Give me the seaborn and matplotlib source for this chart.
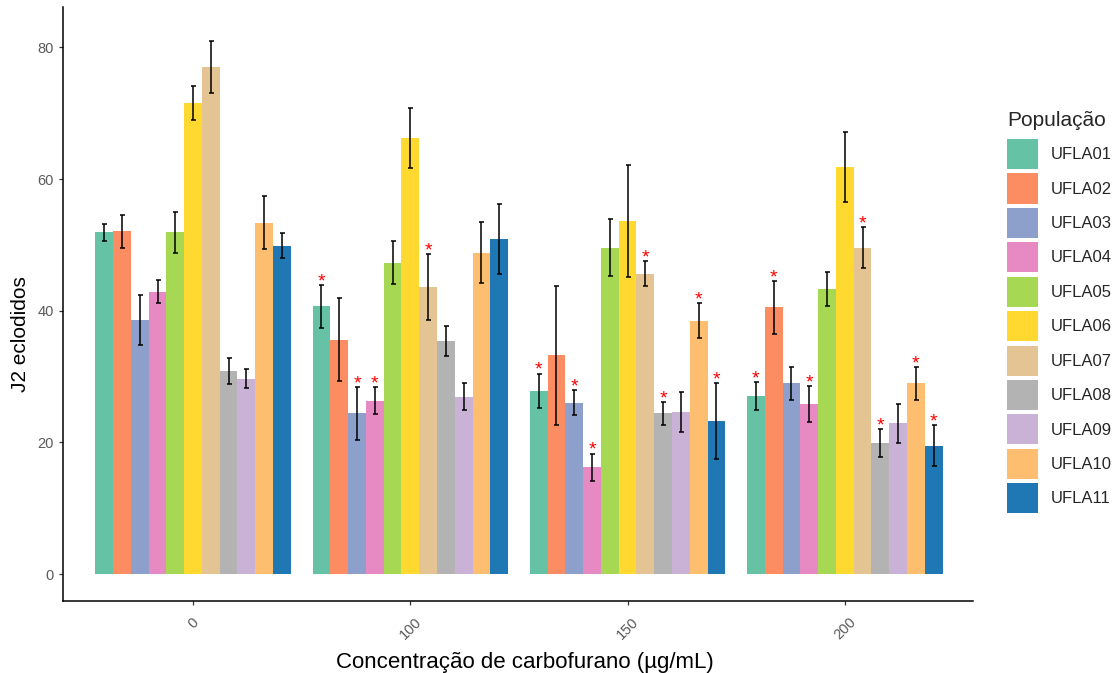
import matplotlib
matplotlib.use("Agg")
import matplotlib.pyplot as plt
import seaborn as sns
import pandas as pd

# Carbofuran concentrations (µg/mL) and nematode populations
concentrations = ["0", "100", "150", "200"]
populations = ["UFLA01", "UFLA02", "UFLA03", "UFLA04", "UFLA05", "UFLA06",
               "UFLA07", "UFLA08", "UFLA09", "UFLA10", "UFLA11"]

# Mean hatched J2 per population, one list per concentration
mean_0 = [51.9, 52.1, 38.6, 42.9, 51.9, 71.6, 77.0, 30.8, 29.7, 53.4, 49.9]
mean_100 = [40.7, 35.6, 24.4, 26.3, 47.3, 66.2, 43.6, 35.4, 26.9, 48.8, 50.9]
mean_150 = [27.8, 33.2, 26.0, 16.2, 49.6, 53.7, 45.6, 24.4, 24.6, 38.5, 23.2]
mean_200 = [27.0, 40.5, 29.0, 25.8, 43.3, 61.8, 49.6, 19.9, 22.9, 29.0, 19.5]

# Standard errors
se_0 = [1.3, 2.5, 3.8, 1.75, 3.1, 2.55, 3.95, 1.95, 1.4, 4.0, 1.95]
se_100 = [3.25, 6.3, 4.0, 2.05, 3.25, 4.55, 4.95, 2.35, 2.05, 4.65, 5.3]
se_150 = [2.65, 10.5, 1.9, 2.1, 4.3, 8.5, 1.9, 1.75, 3.05, 2.7, 5.75]
se_200 = [2.1, 4.05, 2.5, 2.7, 2.55, 5.35, 3.1, 2.1, 2.95, 2.5, 3.15]

# Significant difference from the control (1 = marked with *)
sig_0 = [0, 0, 0, 0, 0, 0, 0, 0, 0, 0, 0]
sig_100 = [1, 0, 1, 1, 0, 0, 1, 0, 0, 0, 0]
sig_150 = [1, 0, 1, 1, 0, 0, 1, 1, 0, 1, 1]
sig_200 = [1, 1, 0, 1, 0, 0, 1, 1, 0, 1, 1]

palette = ["#66C2A5", "#FC8D62", "#8DA0CB", "#E78AC3", "#A6D854", "#FFD92F",
           "#E5C494", "#B3B3B3", "#CAB2D6", "#FDBF6F", "#1F78B4"]

means = [mean_0, mean_100, mean_150, mean_200]
ses = [se_0, se_100, se_150, se_200]
sigs = [sig_0, sig_100, sig_150, sig_200]

rows = []
for c, conc in enumerate(concentrations):
    for p, pop in enumerate(populations):
        rows.append({"conc": conc, "pop": pop, "mean": means[c][p],
                     "se": ses[c][p], "sig": sigs[c][p]})
df = pd.DataFrame(rows)

sns.set_theme(style="ticks")
plt.rcParams["font.family"] = ["Liberation Sans", "DejaVu Sans"]

fig = plt.figure(figsize=(11.15, 6.73), dpi=100)
ax = fig.add_axes([62.7 / 1115, 1 - 601 / 673, (973 - 62.7) / 1115, (601 - 7.3) / 673])

sns.barplot(data=df, x="conc", y="mean", hue="pop", order=concentrations,
            hue_order=populations, palette=palette, saturation=1,
            width=0.9, gap=0, errorbar=None, linewidth=0, edgecolor="none",
            ax=ax)

# Error bars and significance stars on top of each bar
bar_groups = list(ax.containers)
for p, container in enumerate(bar_groups):
    sub = df[df["pop"] == populations[p]].set_index("conc").loc[concentrations]
    for bar, (_, r) in zip(container, sub.iterrows()):
        xc = bar.get_x() + bar.get_width() / 2
        h = bar.get_height()
        ax.errorbar(xc, h, yerr=r["se"], fmt="none", ecolor="black",
                    elinewidth=1.1, capsize=1.8, capthick=1.1, zorder=3)
        if r["sig"]:
            ax.text(xc, h + r["se"] - 0.2, "*", color="red", ha="center",
                    va="baseline", fontsize=14, zorder=4)

ax.set_xlim(-0.6, 3.59)
ax.set_ylim(-4.1, 86.1)
ax.set_yticks([0, 20, 40, 60, 80])

for side in ["top", "right"]:
    ax.spines[side].set_visible(False)
for side in ["left", "bottom"]:
    ax.spines[side].set_color("black")
    ax.spines[side].set_linewidth(1.1)

ax.tick_params(axis="both", colors="#333333", length=3.2, width=0.9,
               labelsize=10.5, labelcolor="#5a5a5a")
ax.tick_params(axis="y", pad=3)
ax.tick_params(axis="x", pad=7)
for lbl in ax.get_xticklabels():
    lbl.set_rotation(45)
    lbl.set_ha("center")
    lbl.set_va("top")

ax.set_xlabel("Concentração de carbofurano (µg/mL)", fontsize=16,
              color="black", labelpad=7)
ax.xaxis.label.set_x(0.508)
ax.set_ylabel("J2 eclodidos", fontsize=15, color="black")
ax.yaxis.set_label_coords(-0.036, 0.45)

handles, labels = ax.get_legend_handles_labels()
if ax.get_legend() is not None:
    ax.get_legend().remove()
leg = fig.legend(handles, labels, title="População", loc="upper left",
                 bbox_to_anchor=(1007 / 1115, 1 - 111 / 673), frameon=False,
                 fontsize=12, title_fontsize=15, alignment="left", borderpad=0,
                 borderaxespad=0, handlelength=1.86, handleheight=2.4,
                 labelspacing=0.26, handletextpad=0.75)
leg._legend_box.sep = 6.5

fig.savefig("out.png", dpi=100)
